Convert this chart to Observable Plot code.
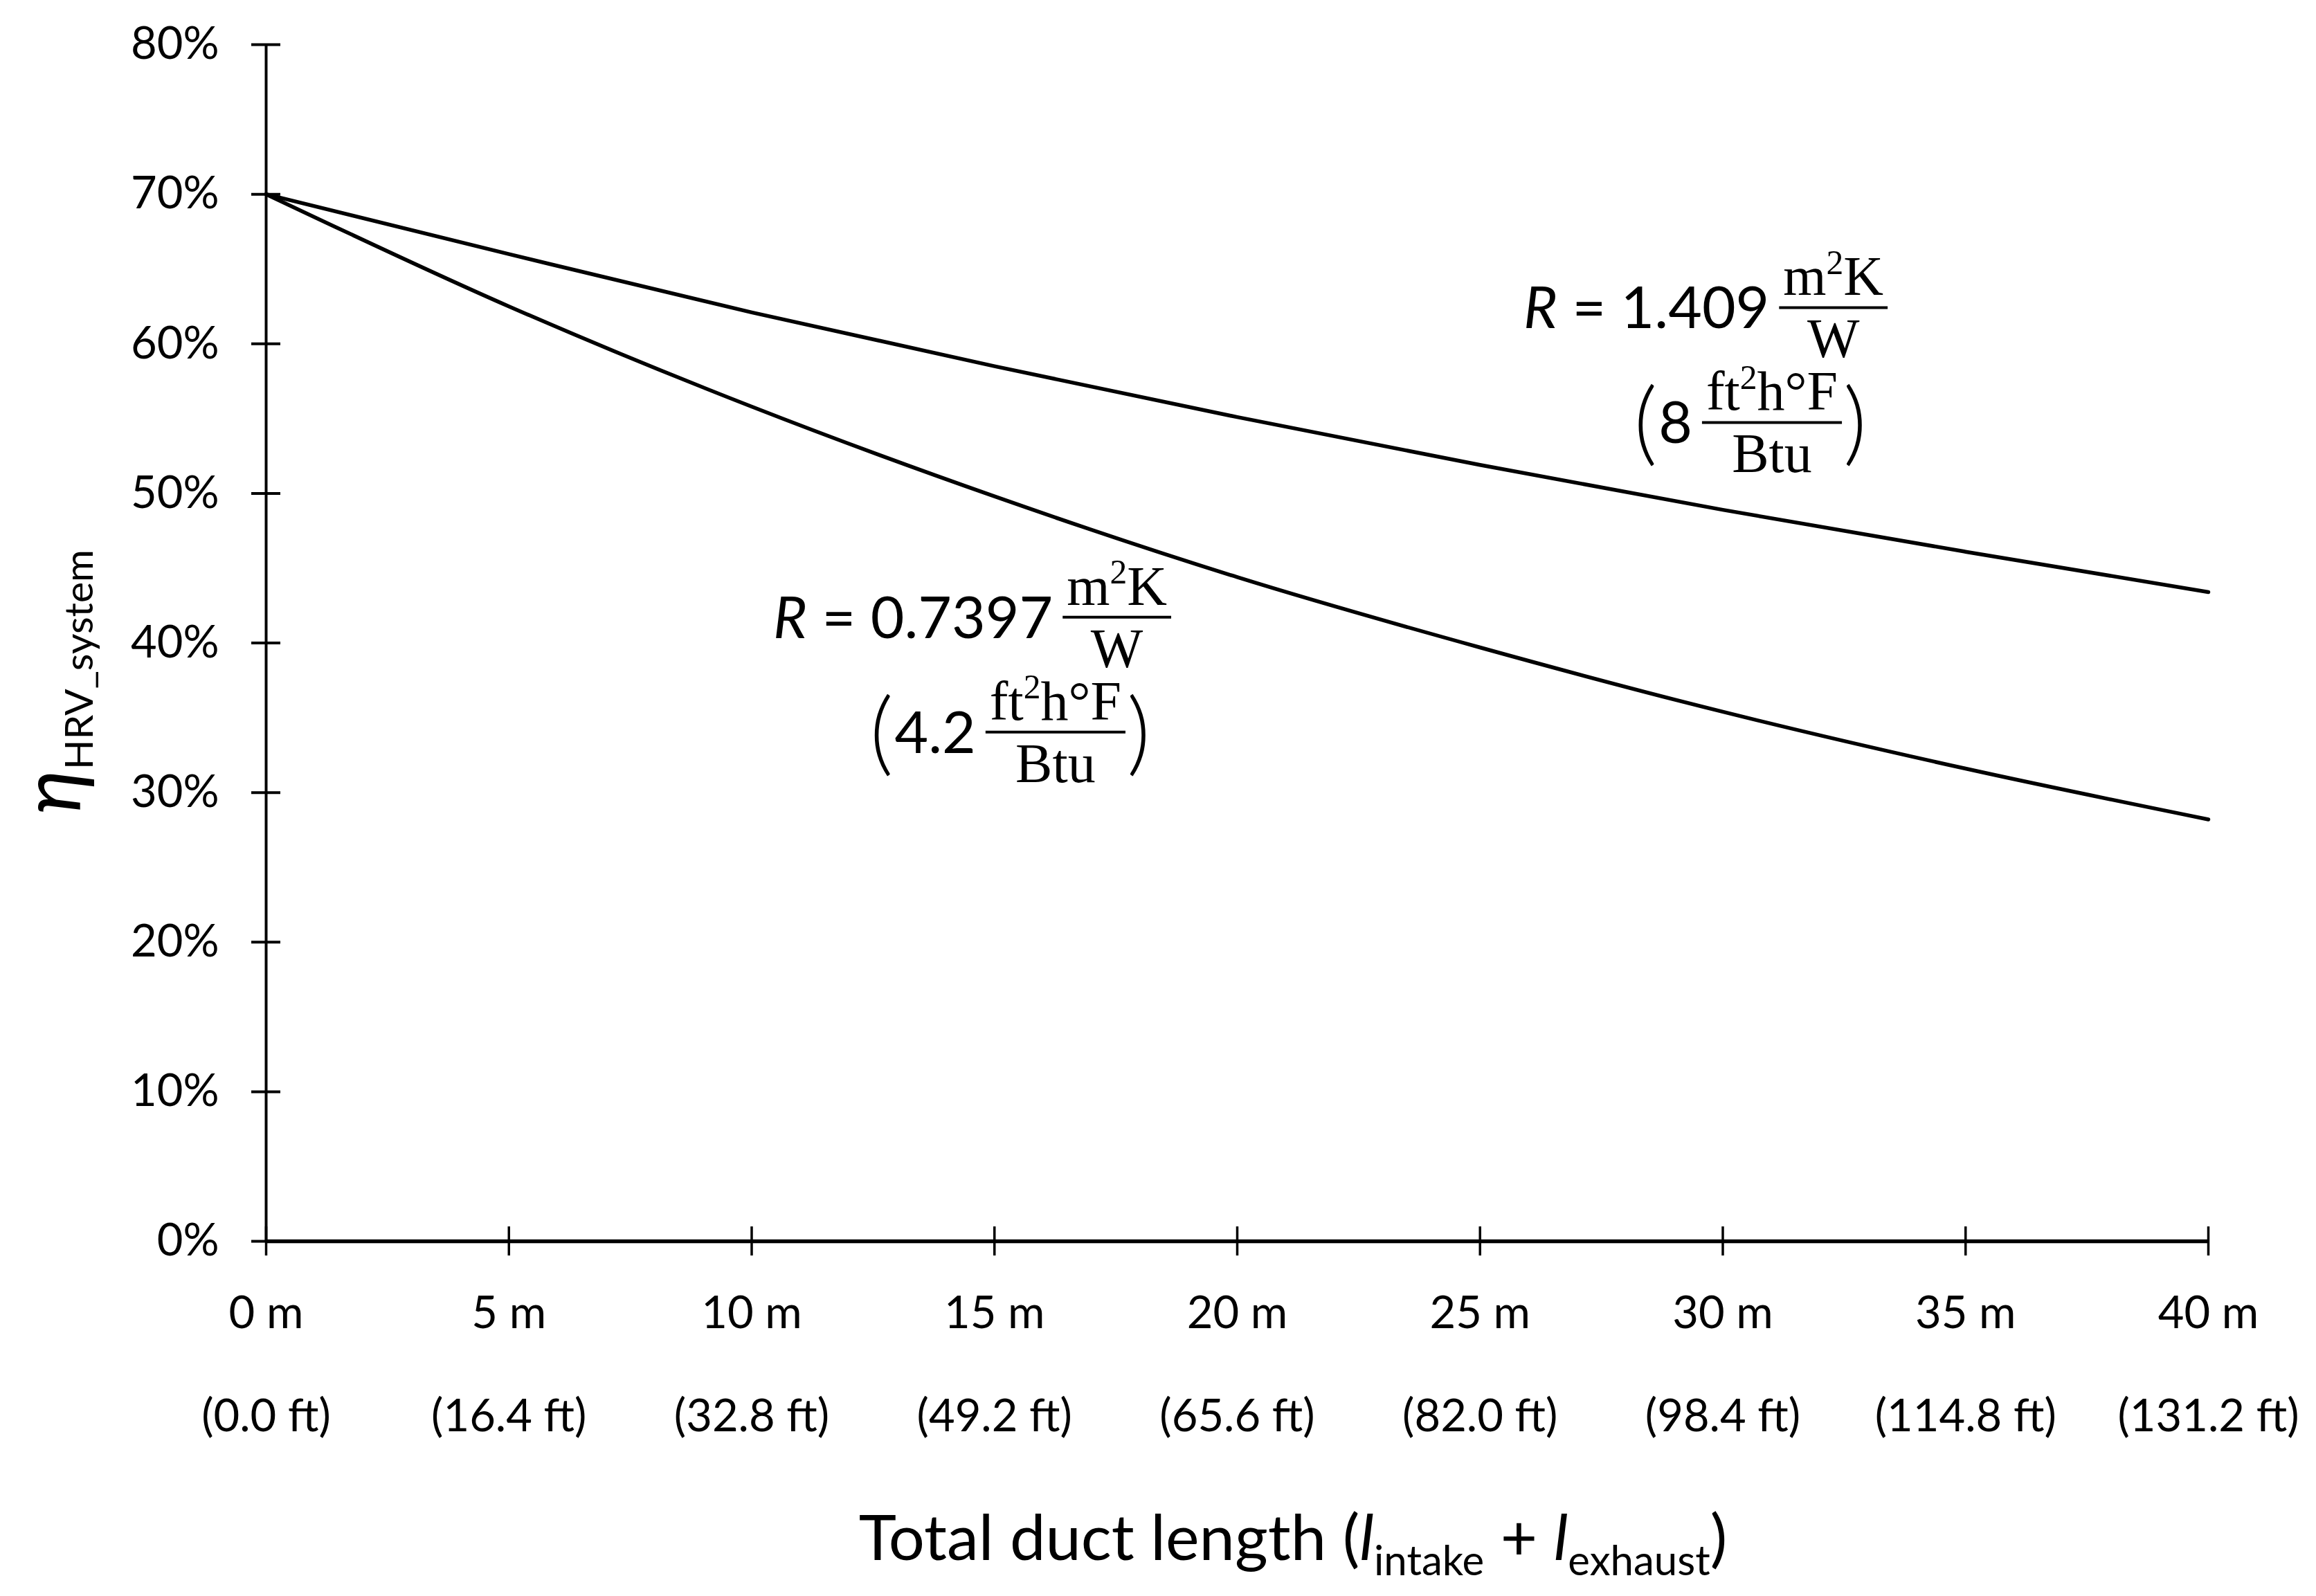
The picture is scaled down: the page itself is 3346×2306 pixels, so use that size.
<!DOCTYPE html>
<html><head><meta charset="utf-8">
<script src="https://cdn.jsdelivr.net/npm/d3@7"></script>
<script src="https://cdn.jsdelivr.net/npm/@observablehq/plot@0.6"></script>
<style>body{margin:0;background:#fff}</style></head>
<body><div id="chart"></div>
<script>
// ---- data ----
const lengthM = [0, 5, 10, 15, 20, 25, 30, 35, 40];
const etaR1409 = [0.700, 0.660, 0.621, 0.585, 0.551, 0.519, 0.489, 0.461, 0.434];
const etaR07397 = [0.700, 0.625, 0.558, 0.498, 0.444, 0.397, 0.354, 0.316, 0.282];
const seriesNames = ["R = 1.409", "R = 0.7397"];
const yTicks = [0, 0.1, 0.2, 0.3, 0.4, 0.5, 0.6, 0.7, 0.8];
const yTickLabels = ["0%", "10%", "20%", "30%", "40%", "50%", "60%", "70%", "80%"];
const xTicks = [0, 5, 10, 15, 20, 25, 30, 35, 40];
const xTickLabelsM = ["0 m", "5 m", "10 m", "15 m", "20 m", "25 m", "30 m", "35 m", "40 m"];
const xTickLabelsFt = ["(0.0 ft)", "(16.4 ft)", "(32.8 ft)", "(49.2 ft)", "(65.6 ft)", "(82.0 ft)", "(98.4 ft)", "(114.8 ft)", "(131.2 ft)"];
const annotRSI = ["1.409", "0.7397"];
const annotRIP = ["8", "4.2"];
const annotAtM = [25.9, 10.45];
const annotAtEta = [0.624, 0.417];
const unitSINum = [["m", false], ["2", true], ["K", false]];
const unitSIDen = "W";
const unitIPNum = [["ft", false], ["2", true], ["h°F", false]];
const unitIPDen = "Btu";

const rows = lengthM.flatMap((L, i) => [
  {L, eta: etaR1409[i], s: seriesNames[0]},
  {L, eta: etaR07397[i], s: seriesNames[1]}
]);

const SANS = "Lato, 'Open Sans', sans-serif";
const SERIF = "'Liberation Serif', 'DejaVu Serif', serif";
const W = 3346, H = 2306;
const mL = 384, mR = 156, mT = 64, mB = 513;
const plotW = W - mL - mR, plotH = H - mT - mB;

const ctx = document.createElement("canvas").getContext("2d");
function measure(text, size, family, style = "normal") {
  ctx.font = `${style} ${size}px ${family}`;
  return ctx.measureText(text).width;
}
const SUP = 0.62;
function partsWidth(parts, size) {
  return d3.sum(parts, ([t, sup]) => measure(t, sup ? size * SUP : size, SERIF));
}
function appendParts(g, parts, cx, y, size) {
  const t = g.append("text").attr("x", cx).attr("y", y).attr("text-anchor", "middle")
    .attr("font-family", SERIF).attr("font-size", size);
  let shifted = false;
  for (const [s, sup] of parts) {
    const ts = t.append("tspan").text(s);
    if (sup) { ts.attr("font-size", size * SUP).attr("dy", -size * 0.38); shifted = true; }
    else if (shifted) { ts.attr("dy", size * 0.38); shifted = false; }
  }
}

function annotations(index, scales) {
  const g = d3.create("svg:g").attr("fill", "black").attr("text-anchor", "start");
  const FM = 84, FF = 80, FP = 132;
  annotRSI.forEach((rsi, i) => {
    const px = scales.x(annotAtM[i]), py = scales.y(annotAtEta[i]);
    const t = g.append("text").attr("x", px).attr("y", py + 30).attr("text-anchor", "start")
      .attr("font-family", SANS).attr("font-size", FM);
    t.append("tspan").attr("font-style", "italic").text("R");
    t.append("tspan").text(" = " + rsi);
    const w1 = measure("R", FM, SANS, "italic") + measure(" = " + rsi, FM, SANS);
    const barW1 = Math.max(partsWidth(unitSINum, FF), measure(unitSIDen, FF, SERIF)) + 12;
    const b1x = px + w1 + 14;
    g.append("line").attr("x1", b1x).attr("x2", b1x + barW1).attr("y1", py).attr("y2", py)
      .attr("stroke", "black").attr("stroke-width", 4);
    appendParts(g, unitSINum, b1x + barW1 / 2, py - 18, FF);
    g.append("text").attr("x", b1x + barW1 / 2).attr("y", py + 72).attr("text-anchor", "middle")
      .attr("font-family", SERIF).attr("font-size", FF).text(unitSIDen);
    // second line (imperial)
    const b2y = py + 166;
    const barW2 = Math.max(partsWidth(unitIPNum, FF), measure(unitIPDen, FF, SERIF)) + 12;
    const rightEnd = b1x + barW1 - 30;
    const wp = measure(")", FP, SANS, "300");
    const closeX = rightEnd - wp;
    const b2end = closeX - 2, b2start = b2end - barW2;
    g.append("line").attr("x1", b2start).attr("x2", b2end).attr("y1", b2y).attr("y2", b2y)
      .attr("stroke", "black").attr("stroke-width", 4);
    appendParts(g, unitIPNum, (b2start + b2end) / 2, b2y - 18, FF);
    g.append("text").attr("x", (b2start + b2end) / 2).attr("y", b2y + 72).attr("text-anchor", "middle")
      .attr("font-family", SERIF).attr("font-size", FF).text(unitIPDen);
    g.append("text").attr("x", closeX).attr("y", b2y + 46).attr("text-anchor", "start")
      .attr("font-family", SANS).attr("font-weight", 300).attr("font-size", FP).text(")");
    const valEnd = b2start - 14;
    g.append("text").attr("x", valEnd).attr("y", b2y + 30).attr("text-anchor", "end")
      .attr("font-family", SANS).attr("font-size", FM).text(annotRIP[i]);
    const valW = measure(annotRIP[i], FM, SANS);
    g.append("text").attr("x", valEnd - valW - 2).attr("y", b2y + 46).attr("text-anchor", "end")
      .attr("font-family", SANS).attr("font-weight", 300).attr("font-size", FP).text("(");
  });
  return g.node();
}

function axisTitles(index, scales, values, dims) {
  const g = d3.create("svg:g").attr("fill", "black").attr("font-family", SANS);
  // y title: eta_HRV_system rotated
  const ty = g.append("text").attr("transform", `translate(116, 985) rotate(-90)`)
    .attr("text-anchor", "middle");
  ty.append("tspan").attr("font-style", "italic").attr("font-size", 118).text("η");
  ty.append("tspan").attr("font-size", 57).attr("dy", 18).text("HRV_system");
  // x title
  const tx = g.append("text").attr("x", 1868).attr("y", 2254).attr("text-anchor", "middle")
    .attr("font-size", 92);
  tx.append("tspan").text("Total duct length (");
  tx.append("tspan").attr("font-style", "italic").text("l");
  tx.append("tspan").attr("font-size", 60).attr("dy", 22).text("intake");
  tx.append("tspan").attr("dy", -22).text(" + ");
  tx.append("tspan").attr("font-style", "italic").text("l");
  tx.append("tspan").attr("font-size", 60).attr("dy", 22).text("exhaust");
  tx.append("tspan").attr("dy", -22).text(")");
  return g.node();
}

const chart = Plot.plot({
  width: W, height: H,
  marginLeft: mL, marginRight: mR, marginTop: mT, marginBottom: mB,
  style: {fontFamily: SANS, fontSize: "65px", color: "black", background: "white"},
  x: {domain: [0, 40]},
  y: {domain: [0, 0.8]},
  marks: [
    Plot.axisY({ticks: yTicks, tickSize: 0, tickPadding: 68, label: null,
      tickFormat: d => yTickLabels[yTicks.findIndex(t => Math.abs(t - d) < 1e-9)], fontSize: 65}),
    Plot.axisX({ticks: xTicks, tickSize: 0, tickPadding: 20, label: null, lineHeight: 2.29,
      tickFormat: d => { const i = xTicks.indexOf(d); return xTickLabelsM[i] + "\n" + xTickLabelsFt[i]; }, fontSize: 65}),
    Plot.tickY(yTicks, {y: d => d, insetLeft: -21, insetRight: plotW - 21, stroke: "black", strokeWidth: 4}),
    Plot.tickX(xTicks, {x: d => d, insetTop: plotH - 21, insetBottom: -21, stroke: "black", strokeWidth: 3.5}),
    Plot.ruleX([0], {stroke: "black", strokeWidth: 4}),
    Plot.ruleY([0], {stroke: "black", strokeWidth: 5.5}),
    Plot.line(rows, {x: "L", y: "eta", z: "s", stroke: "black", strokeWidth: 5.5, curve: "monotone-x"}),
    annotations,
    axisTitles
  ]
});
document.getElementById("chart").appendChild(chart);
</script></body></html>
